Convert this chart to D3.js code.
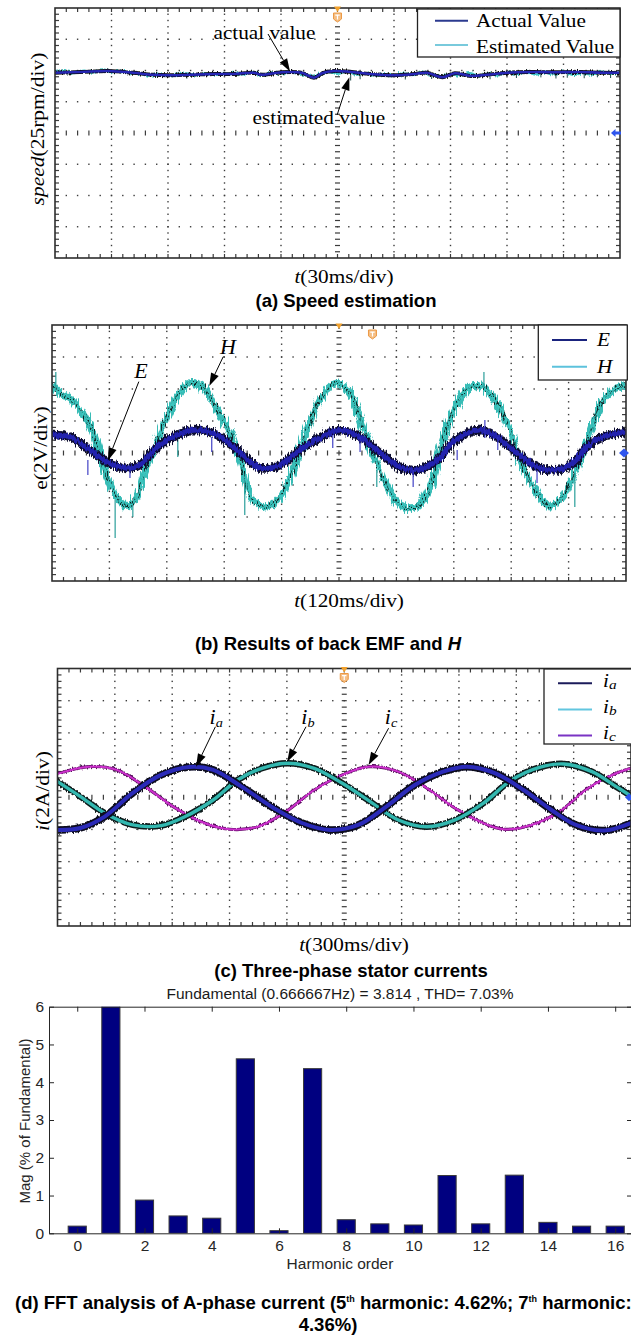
<!DOCTYPE html>
<html>
<head>
<meta charset="utf-8">
<title>Sensorless drive test waveforms</title>
<script src="https://cdn.jsdelivr.net/npm/d3@7/dist/d3.min.js"></script>
<style>
  html, body { margin: 0; padding: 0; background: #fff; }
  svg { display: block; }
</style>
</head>
<body>
<svg id="fig" width="631" height="1337"></svg>
<script>
// ---------- (a) speed estimation : 30 ms/div, 25 rpm/div ----------
const speedTime = [0, 13.5, 28.5, 41.3, 52, 60.5, 71.2, 83.9, 94.7, 105.4, 109.7, 120.4, 131, 137.5, 141.8, 148.1,
  156.6, 167.3, 180, 190.9, 197.3, 205.9, 212.2, 220.8, 229.4, 240, 252.8, 265.5, 278.5, 291.3, 300];
const speedActual = [148.2, 148.8, 149.6, 148.2, 146.6, 146.2, 146.6, 147.2, 147.2, 148.2, 146.6, 148.6, 148.2, 144.2, 147.8, 149.6,
  149.0, 147.2, 146.2, 147.2, 148.2, 144.6, 147.8, 145.6, 146.6, 148.2, 148.8, 148.6, 148.8, 148.2, 148.2];
const speedEstTime = [0, 5, 10, 15, 20, 25, 30, 35, 40, 45, 50, 55, 60, 65, 70, 75, 80, 85, 90, 95, 100, 105, 110, 115, 120,
  125, 130, 135, 140, 145, 150, 155, 160, 165, 170, 175, 180, 185, 190, 195, 200, 205, 210, 215, 220, 225, 230, 235, 240,
  245, 250, 255, 260, 265, 270, 275, 280, 285, 290, 295, 300];
const speedEstimated = [148.6, 149.4, 148.0, 149.8, 148.4, 150.0, 148.8, 149.6, 148.0, 147.4, 146.0, 147.0, 145.8, 146.8, 147.6,
  146.2, 147.8, 146.6, 147.4, 148.0, 147.0, 148.8, 146.2, 148.4, 147.6, 149.0, 147.8, 145.6, 146.4, 148.8, 147.4, 149.2, 146.8,
  147.8, 146.0, 147.0, 145.8, 147.6, 146.4, 148.4, 146.6, 145.4, 147.2, 146.0, 147.8, 145.8, 147.4, 146.2, 148.6, 147.2, 149.0,
  146.8, 148.4, 147.0, 149.2, 146.6, 148.0, 146.8, 148.8, 147.4, 148.4];
// short excursions of the estimate: [time, from, to]
const speedEstSpikes = [[28, 148, 152], [35, 148, 151], [70, 146, 143.5], [150, 148, 152], [157, 147, 142], [162, 147, 143],
  [186, 146, 142.8], [200, 147, 143.2], [231, 146, 143], [245, 147.5, 144], [258, 148, 144.5], [266, 148, 143.6],
  [272, 148, 144.2], [281, 148, 143.8], [288, 148, 144.6], [295, 148, 144]];

// ---------- (b) back EMF E and H : 120 ms/div, 2 V/div ----------
const emfTime = [0, 37.6, 79.4, 115, 157, 184, 219.5, 261, 303, 345, 387, 414, 435, 477, 518, 560, 602, 644, 686, 727.5,
  763, 811, 832, 874, 895, 930, 972, 1014, 1056, 1089, 1118, 1152, 1200];
const emfE = [1.125, 1.0, 0.19, -0.56, -0.94, -0.75, 0.375, 1.125, 1.44, 1.125, 0.19, -0.56, -0.94, -0.75, 0.19, 0.94, 1.44,
  1.0, 0, -0.875, -1.06, -0.31, 0.5, 1.31, 1.44, 1.0, 0, -0.875, -1.06, -0.625, 0.375, 1.0, 1.31];
const hTime = [0, 16.7, 41.8, 64.8, 83.6, 100, 115, 136, 157, 178, 190, 219, 240, 261, 288, 316, 337, 366, 393, 420, 449,
  477, 504, 533, 560, 596, 623, 650, 679, 707, 734, 763, 790, 817, 847, 874, 901, 930, 957, 985, 1014, 1041, 1068, 1098,
  1125, 1152, 1181, 1200];
const hValues = [4.25, 3.75, 3.31, 2.5, 1.44, 0, -1.5, -2.75, -3.375, -2.75, -1.5, 0.625, 2.25, 3.5, 4.375, 4.125, 3.125,
  1.625, -0.44, -2.94, -3.375, -2.75, -1.06, 1.44, 3.31, 4.375, 3.75, 1.625, -0.625, -2.5, -3.375, -3.375, -2.125, 0.81,
  3.125, 4.125, 4.125, 3.125, 1.44, -0.875, -2.5, -3.375, -2.75, -0.875, 1.25, 3.31, 4.06, 4.25];
const emfSpikes = [[75, -0.44, -1.38], [163, -0.88, -1.56], [334, 1.0, 0.06], [587, 1.13, 0.31], [644, 1.0, 0.06],
  [755, -1.06, -2.13], [847, 0.19, -0.44], [905, 2.06, 0.94], [932, 1.0, 0.19], [1014, -1.06, -1.88]];
const hSpikes = [[8, 5.06, 3.94], [132, -2.94, -5.31], [169, -3.25, -4.0], [263, 1.44, -0.25], [403, -1.69, -3.88],
  [679, -1.06, -2.13], [903, 5.06, 4.06], [1093, -1.25, -3.38]];

// ---------- (c) three-phase stator currents : 300 ms/div, 2 A/div ----------
const iaTime = [0, 120, 247, 394, 542, 689, 814, 963, 1132, 1279, 1427, 1573, 1720, 1869, 2017, 2143, 2291, 2438, 2584,
  2712, 2859, 3000];
const iaValues = [-2.03, -1.91, -1.20, 0.27, 1.39, 1.88, 1.70, 0.66, -0.68, -1.60, -2.03, -1.72, -0.58, 0.76, 1.59, 1.90,
  1.49, 0.45, -0.79, -1.72, -2.07, -1.61];
const ibTime = [0, 120, 247, 394, 542, 668, 814, 942, 1069, 1202, 1343, 1490, 1636, 1783, 1933, 2080, 2228, 2375, 2521,
  2649, 2796, 2923, 3000];
const ibValues = [0.97, 0.04, -0.99, -1.72, -1.76, -1.20, -0.17, 1.07, 1.80, 2.11, 1.80, 0.87, -0.27, -1.41, -1.83, -1.41,
  -0.37, 1.07, 1.86, 2.07, 1.59, 0.66, 0.08];
const icTime = [0, 162, 310, 458, 605, 751, 900, 1047, 1195, 1343, 1490, 1626, 1783, 1933, 2080, 2228, 2333, 2479, 2626,
  2775, 2923, 3000];
const icValues = [1.45, 1.90, 1.70, 0.66, -0.58, -1.52, -1.99, -1.83, -0.89, 0.45, 1.39, 1.90, 1.59, 0.56, -0.68, -1.61,
  -1.99, -1.72, -0.89, 0.56, 1.49, 1.80];

// ---------- (d) FFT of phase-A current ----------
const harmonicOrder = [0, 1, 2, 3, 4, 5, 6, 7, 8, 9, 10, 11, 12, 13, 14, 15, 16];
const harmonicMag = [0.19, 100, 0.88, 0.46, 0.40, 4.62, 0.07, 4.36, 0.36, 0.25, 0.22, 1.53, 0.25, 1.54, 0.29, 0.19, 0.19];
const fftXTicks = [0, 2, 4, 6, 8, 10, 12, 14, 16];
const fftYTicks = [0, 1, 2, 3, 4, 5, 6];

// ------------------------------------------------------------------
const SERIF = "'Liberation Serif','Times New Roman',serif";
const SANS = "'Liberation Sans',Arial,sans-serif";
const svg = d3.select("#fig");
const defs = svg.append("defs");

// fine-grained measurement noise on the recorded traces
function noiseFilter(id, freq, scale, seed) {
  const f = defs.append("filter").attr("id", id).attr("filterUnits", "userSpaceOnUse")
    .attr("x", 0).attr("y", 0).attr("width", 631).attr("height", 1337);
  f.append("feTurbulence").attr("type", "fractalNoise").attr("baseFrequency", freq)
    .attr("numOctaves", 2).attr("seed", seed).attr("result", "noise");
  f.append("feDisplacementMap").attr("in", "SourceGraphic").attr("in2", "noise").attr("scale", scale)
    .attr("xChannelSelector", "R").attr("yChannelSelector", "G");
}
noiseFilter("fuzzA", "0.7 0.08", 5, 2);
noiseFilter("fuzzB", "0.6 0.05", 10, 5);
noiseFilter("fuzzB2", "0.9 0.1", 8, 9);
noiseFilter("fuzzE", "0.8 0.06", 6, 11);
noiseFilter("fuzzC", "0.8 0.1", 3.5, 4);

function richText(parent, x, y, parts, o) {
  const rot = o.rotate ? ` rotate(${o.rotate})` : "";
  const t = parent.append("text")
    .attr("transform", `translate(${x},${y})${rot} scale(${o.sx || 1},${o.sy || 1})`)
    .attr("font-family", o.family).attr("font-size", o.size)
    .attr("font-weight", o.weight || "normal")
    .attr("text-anchor", o.anchor || "middle").attr("fill", o.fill || "#000");
  parts.forEach(p => {
    const s = t.append("tspan").text(p.t);
    if (p.italic) s.attr("font-style", "italic");
    if (p.size) s.attr("font-size", p.size);
    if (p.dy) s.attr("dy", p.dy);
  });
  return t;
}

function arrow(g, x0, y0, x1, y1) {
  const dx = x1 - x0, dy = y1 - y0, len = Math.hypot(dx, dy), ux = dx / len, uy = dy / len;
  const L = 13, hw = 4.2;
  const bx = x1 - ux * L, by = y1 - uy * L;
  g.append("line").attr("x1", x0).attr("y1", y0).attr("x2", bx).attr("y2", by)
    .attr("stroke", "#000").attr("stroke-width", 1);
  g.append("path").attr("d", `M${x1},${y1}L${bx - uy * hw},${by + ux * hw}L${bx + uy * hw},${by - ux * hw}Z`)
    .attr("fill", "#000");
}

// oscilloscope screen: 10 x 8 divisions, 5 sub-divisions each
let clipCount = 0;
function scopeFrame(cfg) {
  const x = d3.scaleLinear().domain(cfg.xDomain).range([cfg.left, cfg.right]);
  const y = d3.scaleLinear().domain(cfg.yDomain).range([cfg.bottom, cfg.top]);
  const g = svg.append("g");
  const xStep = (cfg.xDomain[1] - cfg.xDomain[0]) / 50;
  const yStep = (cfg.yDomain[1] - cfg.yDomain[0]) / 40;
  const xm = d3.range(51).map(i => x(cfg.xDomain[0] + i * xStep));
  const ym = d3.range(41).map(j => y(cfg.yDomain[0] + j * yStep));
  const marks = [];
  for (let i = 5; i < 50; i += 5) if (i !== 25)
    for (let j = 1; j < 40; j++) marks.push([xm[i] - 0.7, ym[j] - 0.7, 1.4, 1.4]);
  for (let j = 5; j < 40; j += 5) if (j !== 20)
    for (let i = 1; i < 50; i++) marks.push([xm[i] - 0.7, ym[j] - 0.7, 1.4, 1.4]);
  for (let j = 1; j < 40; j++) marks.push([xm[25] - 2.5, ym[j] - 0.6, 5, 1.2]);
  for (let i = 1; i < 50; i++) marks.push([xm[i] - 0.6, ym[20] - 2.5, 1.2, 5]);
  for (let j = 1; j < 40; j++) {
    marks.push([cfg.left, ym[j] - 0.6, 4, 1.2]);
    marks.push([cfg.right - 4, ym[j] - 0.6, 4, 1.2]);
  }
  for (let i = 1; i < 50; i++) {
    marks.push([xm[i] - 0.6, cfg.top, 1.2, 4]);
    marks.push([xm[i] - 0.6, cfg.bottom - 4, 1.2, 4]);
  }
  g.append("g").attr("fill", "#3c3c3c").selectAll("rect").data(marks).join("rect")
    .attr("x", d => d[0]).attr("y", d => d[1]).attr("width", d => d[2]).attr("height", d => d[3]);

  const cid = "scopeClip" + (clipCount++);
  defs.append("clipPath").attr("id", cid).append("rect")
    .attr("x", cfg.left).attr("y", cfg.top).attr("width", cfg.right - cfg.left).attr("height", cfg.bottom - cfg.top);
  const plot = g.append("g").attr("clip-path", `url(#${cid})`);
  g.append("rect").attr("x", cfg.left).attr("y", cfg.top)
    .attr("width", cfg.right - cfg.left).attr("height", cfg.bottom - cfg.top)
    .attr("fill", "none").attr("stroke", "#2e2e2e").attr("stroke-width", 1.6);
  return { x, y, g, plot };
}

function trace(g, xs, ys, sc, st) {
  const line = d3.line().x((d, i) => sc.x(xs[i])).y(d => sc.y(d)).curve(d3.curveCatmullRom.alpha(0.5));
  g.append("path").datum(ys).attr("d", line).attr("fill", "none")
    .attr("stroke", st.color).attr("stroke-width", st.width)
    .attr("stroke-linejoin", "round").attr("stroke-linecap", "round")
    .attr("filter", st.filter ? `url(#${st.filter})` : null);
}

function spikes(g, list, sc, color, w) {
  g.append("g").selectAll("line").data(list).join("line")
    .attr("x1", d => sc.x(d[0])).attr("x2", d => sc.x(d[0]))
    .attr("y1", d => sc.y(d[1])).attr("y2", d => sc.y(d[2]))
    .attr("stroke", color).attr("stroke-width", w);
}

// trigger position marker (orange)
function triggerMarks(g, xTri, xShield, top) {
  g.append("path").attr("d", `M${xTri - 3.5},${top - 1.5}L${xTri + 3.5},${top - 1.5}L${xTri},${top + 4}Z`)
    .attr("fill", "#f2a22e");
  g.append("path")
    .attr("d", `M${xShield - 4},${top + 5}L${xShield + 4},${top + 5}L${xShield + 4},${top + 11}L${xShield},${top + 14}L${xShield - 4},${top + 11}Z`)
    .attr("fill", "#f5bf85").attr("stroke", "#ec9a45").attr("stroke-width", 1);
  g.append("path").attr("d", `M${xShield - 2.2},${top + 7.2}H${xShield + 2.2}M${xShield},${top + 7.2}V${top + 11.5}`)
    .attr("stroke", "#fff").attr("stroke-width", 1.2);
}

const LEG = { family: SERIF, size: 18, sx: 1.18, anchor: "start" };
const YLAB = { family: SERIF, size: 21.5, rotate: -90, sy: 0.86 };

// ================= (a) =================
{
  const sc = scopeFrame({ left: 55, right: 620, top: 8, bottom: 258, xDomain: [0, 300], yDomain: [0, 200] });
  trace(sc.plot, speedEstTime, speedEstimated, sc, { color: "#3fc4c4", width: 2.6, filter: "fuzzA" });
  spikes(sc.plot, speedEstSpikes, sc, "#1e4a4a", 1);
  trace(sc.plot, speedTime, speedActual, sc, { color: "#111", width: 3.8, filter: "fuzzC" });
  trace(sc.plot, speedTime, speedActual, sc, { color: "#2626b4", width: 2.6 });
  triggerMarks(sc.g, sc.x(150), sc.x(150), 8);
  const yb = sc.y(100);
  sc.g.append("path")
    .attr("d", `M${sc.x(300) - 9},${yb}L${sc.x(300) - 4.5},${yb - 4}V${yb - 1.4}H${sc.x(300) + 1}V${yb + 1.4}H${sc.x(300) - 4.5}V${yb + 4}Z`)
    .attr("fill", "#2f56ee");

  const ann = sc.g.append("g");
  richText(ann, sc.x(111.2), sc.y(175.6), [{ t: "actual value" }], { family: SERIF, size: 18, sx: 1.18 });
  arrow(ann, sc.x(113.1), sc.y(179.2), sc.x(124.8), sc.y(149.2));
  richText(ann, sc.x(140.1), sc.y(107.6), [{ t: "estimated value" }], { family: SERIF, size: 18, sx: 1.18 });
  arrow(ann, sc.x(149.8), sc.y(114.4), sc.x(156.3), sc.y(144.6));

  const lg = sc.g.append("g");
  lg.append("rect").attr("x", 417.5).attr("y", 9).attr("width", 202.5).attr("height", 48)
    .attr("fill", "#fff").attr("stroke", "#222").attr("stroke-width", 1.3);
  lg.append("line").attr("x1", 435).attr("x2", 468).attr("y1", 20.7).attr("y2", 20.7).attr("stroke", "#2b3a8f").attr("stroke-width", 2);
  lg.append("line").attr("x1", 435).attr("x2", 468).attr("y1", 45).attr("y2", 45).attr("stroke", "#4cb8d0").attr("stroke-width", 1.6);
  richText(lg, 476, 27, [{ t: "Actual Value" }], LEG);
  richText(lg, 476, 52.5, [{ t: "Estimated Value" }], LEG);

  richText(svg, 44, 129, [{ t: "speed", italic: true }, { t: "(25rpm/div)" }], YLAB);
  richText(svg, 344, 283, [{ t: "t", italic: true }, { t: "(30ms/div)" }], { family: SERIF, size: 18, sx: 1.18 });
  richText(svg, 346, 307, [{ t: "(a) Speed estimation" }], { family: SANS, size: 18.5, weight: "bold" });
}

// ================= (b) =================
{
  const sc = scopeFrame({ left: 52, right: 626, top: 325, bottom: 581, xDomain: [0, 1200], yDomain: [-8, 8] });
  trace(sc.plot, hTime, hValues, sc, { color: "#37bcb6", width: 7, filter: "fuzzB" });
  trace(sc.plot, hTime, hValues, sc, { color: "#0b2222", width: 1.5, filter: "fuzzB2" });
  trace(sc.plot, hTime, hValues, sc, { color: "#3cc8c0", width: 1.4, filter: "fuzzE" });
  spikes(sc.plot, hSpikes, sc, "#2a9e9a", 1.2);
  trace(sc.plot, emfTime, emfE, sc, { color: "#0a0a30", width: 8.5, filter: "fuzzB2" });
  trace(sc.plot, emfTime, emfE, sc, { color: "#2424ae", width: 5, filter: "fuzzE" });
  spikes(sc.plot, emfSpikes, sc, "#3030c0", 1.1);
  triggerMarks(sc.g, sc.x(600), sc.x(670), 325);
  const yb = sc.y(0), xb = sc.x(1200) - 2;
  sc.g.append("path").attr("d", `M${xb - 5},${yb}L${xb},${yb - 4.5}L${xb + 5},${yb}L${xb},${yb + 4.5}Z`).attr("fill", "#2f56ee");

  const ann = sc.g.append("g");
  richText(ann, sc.x(186), sc.y(4.69), [{ t: "E", italic: true }], { family: SERIF, size: 20, sx: 1.1 });
  arrow(ann, sc.x(181.5), sc.y(4.46), sc.x(116.7), sc.y(-0.48));
  richText(ann, sc.x(368), sc.y(6.19), [{ t: "H", italic: true }], { family: SERIF, size: 20, sx: 1.1 });
  arrow(ann, sc.x(358), sc.y(6.02), sc.x(328.8), sc.y(4.19));

  const lg = sc.g.append("g");
  lg.append("rect").attr("x", 538.3).attr("y", 325).attr("width", 89).attr("height", 55)
    .attr("fill", "#fff").attr("stroke", "#222").attr("stroke-width", 1.3);
  lg.append("line").attr("x1", 552).attr("x2", 587).attr("y1", 340).attr("y2", 340).attr("stroke", "#1a237e").attr("stroke-width", 2);
  lg.append("line").attr("x1", 552).attr("x2", 587).attr("y1", 366.7).attr("y2", 366.7).attr("stroke", "#5cc2dc").attr("stroke-width", 2);
  richText(lg, 597, 346, [{ t: "E", italic: true }], LEG);
  richText(lg, 597, 373, [{ t: "H", italic: true }], LEG);

  richText(svg, 47, 448, [{ t: "e(2V/div)" }], YLAB);
  richText(svg, 349, 607, [{ t: "t", italic: true }, { t: "(120ms/div)" }], { family: SERIF, size: 18, sx: 1.18 });
  richText(svg, 328, 650, [{ t: "(b) Results of back EMF and " }, { t: "H", italic: true }],
    { family: SANS, size: 18.5, weight: "bold" });
}

// ================= (c) =================
{
  const sc = scopeFrame({ left: 57.5, right: 631, top: 668.5, bottom: 926, xDomain: [0, 3000], yDomain: [-8, 8] });
  trace(sc.plot, icTime, icValues, sc, { color: "#5a1060", width: 3.2, filter: "fuzzC" });
  trace(sc.plot, icTime, icValues, sc, { color: "#cc30cc", width: 2 });
  trace(sc.plot, ibTime, ibValues, sc, { color: "#0c1a1a", width: 6.5, filter: "fuzzC" });
  trace(sc.plot, ibTime, ibValues, sc, { color: "#33b8b0", width: 3.4 });
  trace(sc.plot, iaTime, iaValues, sc, { color: "#08081e", width: 7.5, filter: "fuzzC" });
  trace(sc.plot, iaTime, iaValues, sc, { color: "#2a2ab8", width: 4 });
  triggerMarks(sc.g, sc.x(1500), sc.x(1500), 668.5);
  const yb = sc.y(0), xb = 629;
  sc.g.append("path").attr("d", `M${xb - 4},${yb}L${xb},${yb - 4}L${xb + 4},${yb}L${xb},${yb + 4}Z`).attr("fill", "#2f56ee");

  const ann = sc.g.append("g");
  const lbl = (t, sub, v) => richText(ann, sc.x(t), sc.y(v),
    [{ t: "i", italic: true }, { t: sub, italic: true, size: 13, dy: 3 }], { family: SERIF, size: 20, sx: 1.1 });
  lbl(830, "a", 4.55); arrow(ann, sc.x(826), sc.y(4.38), sc.x(725), sc.y(1.90));
  lbl(1310, "b", 4.55); arrow(ann, sc.x(1300), sc.y(4.38), sc.x(1202), sc.y(2.21));
  lbl(1745, "c", 4.55); arrow(ann, sc.x(1732), sc.y(4.29), sc.x(1627), sc.y(2.0));

  const lg = sc.g.append("g");
  lg.append("rect").attr("x", 544).attr("y", 669).attr("width", 100).attr("height", 75)
    .attr("fill", "#fff").attr("stroke", "#222").attr("stroke-width", 1.3);
  [["a", "#1b1b5a", 683.3], ["b", "#62c6df", 709.5], ["c", "#7a33c4", 735.5]].forEach(([s, c, yy]) => {
    lg.append("line").attr("x1", 558).attr("x2", 592).attr("y1", yy).attr("y2", yy).attr("stroke", c).attr("stroke-width", 2);
    richText(lg, 603, yy + 3.5, [{ t: "i", italic: true }, { t: s, italic: true, size: 13, dy: 2 }], LEG);
  });

  richText(svg, 49, 791, [{ t: "i", italic: true }, { t: "(2A/div)" }], YLAB);
  richText(svg, 354, 951, [{ t: "t", italic: true }, { t: "(300ms/div)" }], { family: SERIF, size: 18, sx: 1.18 });
  richText(svg, 351, 977, [{ t: "(c) Three-phase stator currents" }], { family: SANS, size: 18.5, weight: "bold" });
}

// ================= (d) =================
{
  const fx = d3.scaleLinear().domain([-0.84, 16.5]).range([49, 632]);
  const fy = d3.scaleLinear().domain([0, 6]).range([1233.3, 1006.7]);
  const g = svg.append("g");
  defs.append("clipPath").attr("id", "fftClip").append("rect")
    .attr("x", 49).attr("y", 1006.7).attr("width", 583).attr("height", 1233.3 - 1006.7);
  const half = 0.27;
  g.append("g").attr("clip-path", "url(#fftClip)").selectAll("rect").data(harmonicOrder).join("rect")
    .attr("x", d => fx(d - half)).attr("width", fx(half) - fx(-half))
    .attr("y", (d, i) => fy(harmonicMag[i])).attr("height", (d, i) => fy(0) - fy(harmonicMag[i]))
    .attr("fill", "#000080").attr("stroke", "#3a3a3a").attr("stroke-width", 1);

  const ax = (sel) => sel.attr("font-family", SANS).attr("font-size", 15.5).call(s => {
    s.selectAll("path,line").attr("stroke", "#262626");
    s.selectAll("text").attr("fill", "#262626");
  });
  const fmt = d3.format("d");
  g.append("g").attr("transform", "translate(0,1233.3)")
    .call(d3.axisBottom(fx).tickValues(fftXTicks).tickFormat(fmt).tickSize(-5).tickSizeOuter(0).tickPadding(7)).call(ax);
  g.append("g").attr("transform", "translate(0,1006.7)")
    .call(d3.axisTop(fx).tickValues(fftXTicks).tickSize(-5).tickSizeOuter(0).tickFormat("")).call(ax);
  g.append("g").attr("transform", "translate(49,0)")
    .call(d3.axisLeft(fy).tickValues(fftYTicks).tickFormat(fmt).tickSize(-5).tickSizeOuter(0).tickPadding(5)).call(ax);
  g.append("g").attr("transform", "translate(632,0)")
    .call(d3.axisRight(fy).tickValues(fftYTicks).tickSize(-5).tickSizeOuter(0).tickFormat("")).call(ax);

  richText(g, 340, 999, [{ t: "Fundamental (0.666667Hz) = 3.814 , THD= 7.03%" }], { family: SANS, size: 15.5, fill: "#1a1a1a" });
  richText(g, 340, 1269, [{ t: "Harmonic order" }], { family: SANS, size: 15.5, fill: "#262626" });
  richText(g, 30, 1121, [{ t: "Mag (% of Fundamental)" }], { family: SANS, size: 15, rotate: -90, fill: "#262626" });

  const CAP = { family: SANS, size: 18.5, weight: "bold", anchor: "start" };
  richText(svg, 15, 1309, [
    { t: "(d) FFT analysis of A-phase current (5" },
    { t: "th", size: 9, dy: -7 },
    { t: " harmonic: 4.62%; 7", dy: 7 },
    { t: "th", size: 9, dy: -7 },
    { t: " harmonic:", dy: 7 }], CAP);
  richText(svg, 328, 1331, [{ t: "4.36%)" }], { family: SANS, size: 18.5, weight: "bold" });
}
</script>
</body>
</html>
